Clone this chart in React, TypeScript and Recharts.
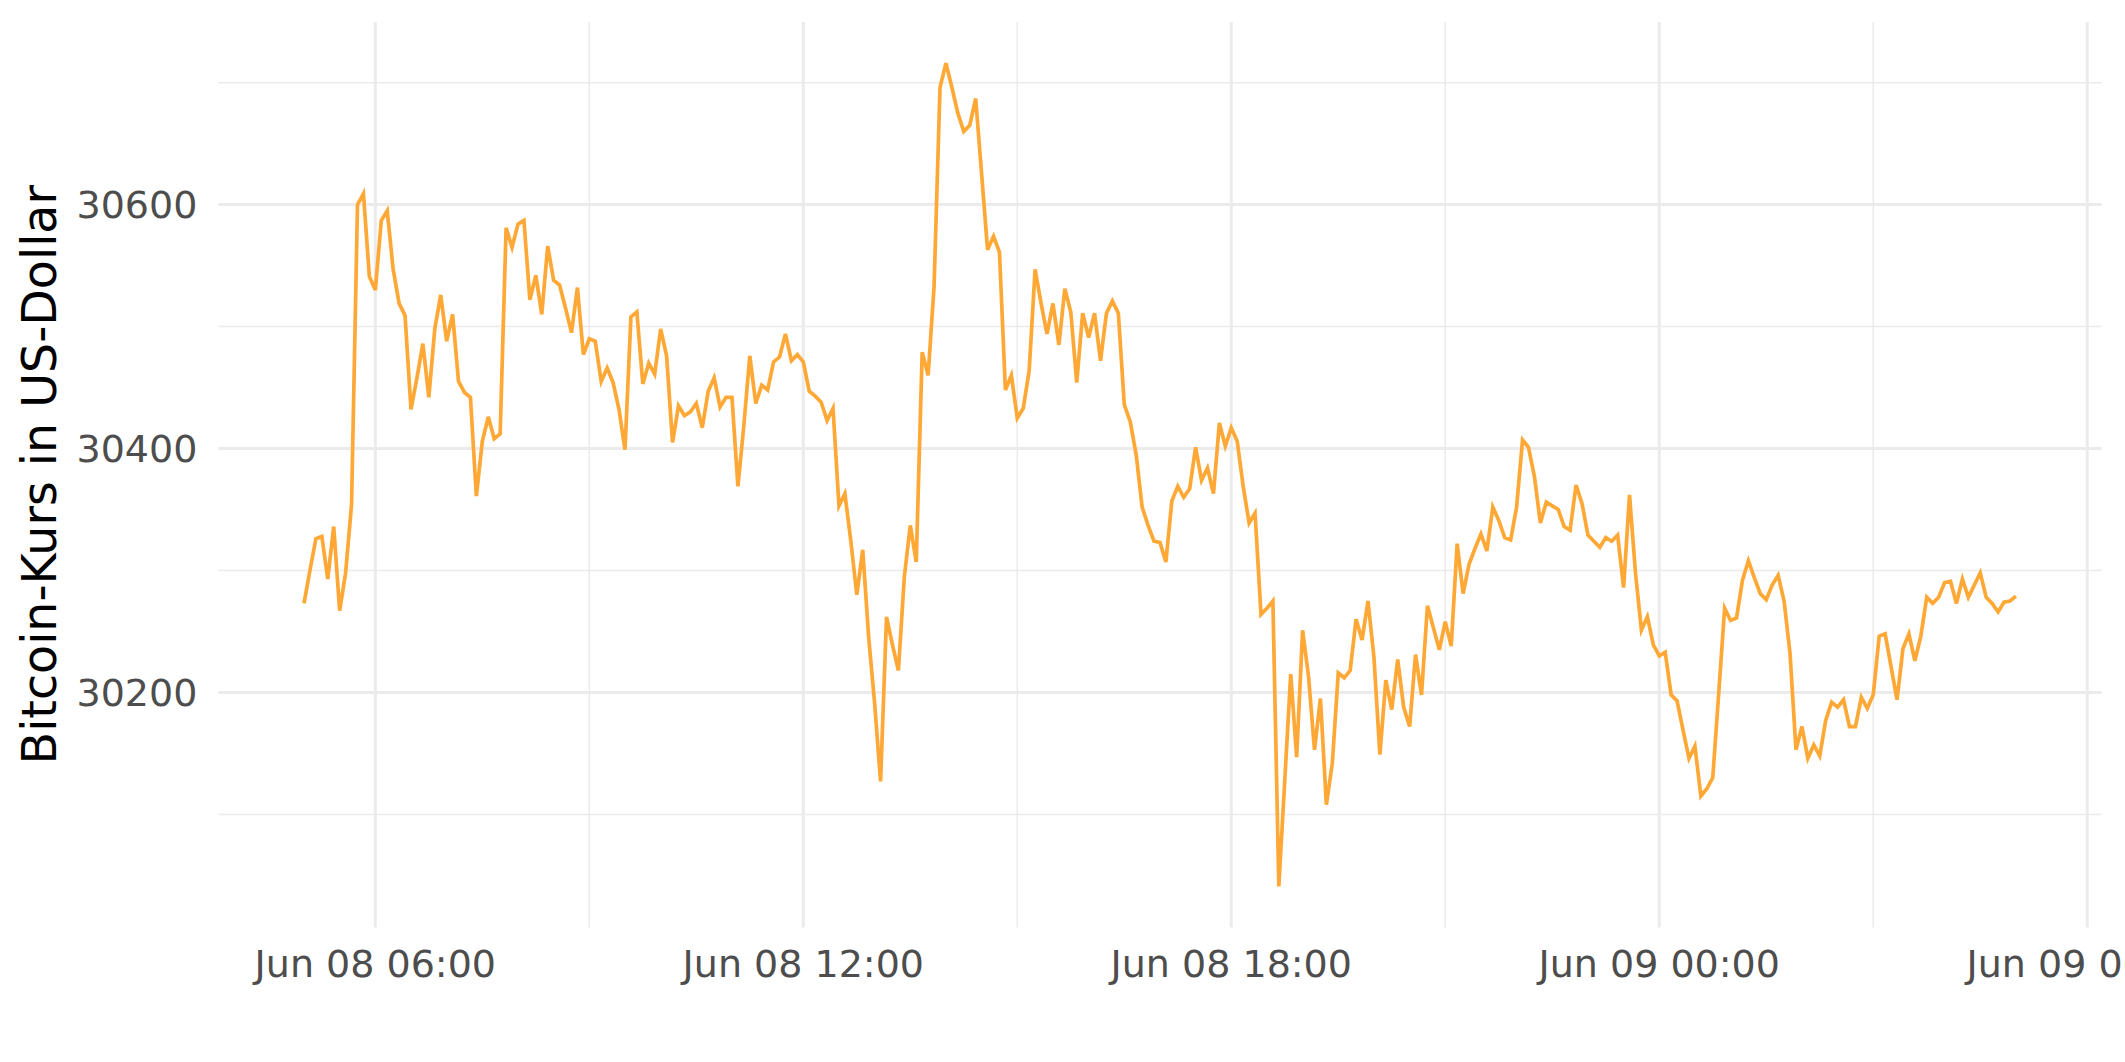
import React from 'react';
import { LineChart, Line, XAxis, YAxis, ReferenceLine } from 'recharts';

// 5-minute prices, Jun 08 05:00 -> Jun 09 05:00 (one row per hour)
const stepMinutes = 5;

const pricesJun08 = [
  30273, 30300, 30326, 30328, 30293, 30336, 30267, 30298, 30354, 30600, 30609, 30541,
  30530, 30587, 30595, 30547, 30519, 30509, 30432, 30458, 30486, 30442, 30498, 30526,
  30488, 30510, 30455, 30446, 30442, 30361, 30406, 30426, 30408, 30412, 30581, 30565,
  30584, 30587, 30522, 30542, 30510, 30566, 30538, 30534, 30515, 30495, 30532, 30477,
  30490, 30488, 30455, 30466, 30454, 30432, 30399, 30508, 30512, 30453, 30470, 30461,
  30498, 30476, 30405, 30435, 30427, 30430, 30437, 30417, 30447, 30458, 30434, 30442,
  30442, 30369, 30419, 30476, 30437, 30452, 30448, 30471, 30475, 30494, 30472, 30477,
  30471, 30447, 30443, 30438, 30423, 30433, 30353, 30363, 30324, 30280, 30317, 30245,
  30191, 30127, 30262, 30239, 30218, 30295, 30337, 30307, 30479, 30460, 30533, 30696,
  30716, 30696, 30675, 30660, 30665, 30687, 30625, 30563, 30574, 30561, 30448, 30460,
  30425, 30433, 30464, 30547, 30519, 30494, 30519, 30485, 30531, 30512, 30454, 30511,
  30491, 30511, 30472, 30511, 30521, 30511, 30436, 30422, 30395, 30352, 30337, 30324,
  30323, 30307, 30357, 30369, 30360, 30367, 30401, 30374, 30384, 30363, 30421, 30402,
  30417, 30406, 30369, 30339, 30347, 30264, 30269, 30275, 30041, 30128, 30215, 30147,
  30251, 30213, 30153, 30195, 30108, 30142, 30216, 30212, 30218, 30260, 30243, 30275,
  30229, 30149, 30210, 30186, 30227, 30188, 30172, 30231, 30198, 30271, 30253, 30235,
  30258, 30238, 30322, 30281, 30305, 30318, 30330, 30316, 30352, 30341, 30327, 30325,
  30352, 30407, 30401, 30377, 30339, 30356, 30353, 30350, 30336, 30333, 30370, 30355,
  30329, 30324, 30319, 30327, 30324, 30329, 30286, 30362, 30298, 30251, 30262, 30239,
];

const pricesJun09 = [
  30230, 30233, 30198, 30193, 30169, 30146, 30156, 30115, 30121, 30130, 30199, 30269,
  30259, 30261, 30292, 30308, 30294, 30281, 30276, 30288, 30296, 30275, 30232, 30153,
  30172, 30146, 30157, 30148, 30177, 30192, 30188, 30194, 30172, 30172, 30196, 30187,
  30198, 30246, 30248, 30221, 30194, 30236, 30248, 30226, 30246, 30278, 30273, 30278,
  30290, 30291, 30273, 30293, 30278, 30288, 30298, 30278, 30273, 30266, 30274, 30275,
  30279,
];

// minutes after Jun 08 05:00
const xTicks = [60, 420, 780, 1140, 1500];
const xTickLabels = ['Jun 08 06:00', 'Jun 08 12:00', 'Jun 08 18:00', 'Jun 09 00:00', 'Jun 09 06:00'];
const xMinorTicks = [240, 600, 960, 1320];
const yTicks = [30200, 30400, 30600];
const yMinorTicks = [30100, 30300, 30500, 30700];

const prices = [...pricesJun08, ...pricesJun09];
const data = prices.map((price, i) => ({ t: i * stepMinutes, price }));

// ggplot-style 5% expansion
const tMax = (prices.length - 1) * stepMinutes;
const xDomain = [-tMax * 0.05, tMax * 1.05];
const pMin = Math.min(...prices);
const pMax = Math.max(...prices);
const yDomain = [pMin - (pMax - pMin) * 0.05, pMax + (pMax - pMin) * 0.05];

const FONT = 'DejaVu Sans';
const GRID = '#EBEBEB';

const YTitle = () => (
  <text
    x={56}
    y={474.75}
    transform="rotate(-90 56 474.75)"
    textAnchor="middle"
    fontSize={47.5}
    fontFamily={FONT}
    fill="#000000"
  >
    Bitcoin-Kurs in US-Dollar
  </text>
);

const App: React.FC = () => {
  return (
    <div style={{ position: 'fixed', left: 0, top: 0, width: 2125, height: 1062, background: '#ffffff', overflow: 'hidden' }}>
      <LineChart width={2125} height={1062} data={data} margin={{ top: 22, right: 23.5, bottom: 0, left: 0 }}>
        <XAxis
          dataKey="t"
          type="number"
          domain={xDomain}
          ticks={xTicks}
          interval={0}
          allowDataOverflow
          tickFormatter={(v: number) => xTickLabels[xTicks.indexOf(v)]}
          height={134.5}
          tickLine={false}
          axisLine={false}
          tickSize={0}
          tickMargin={22.5}
          tick={{ fill: '#4D4D4D', fontSize: 38, fontFamily: FONT }}
        />
        <YAxis
          type="number"
          domain={yDomain}
          ticks={yTicks}
          interval={0}
          allowDataOverflow
          width={218.4}
          tickLine={false}
          axisLine={false}
          tickSize={0}
          tickMargin={21}
          tick={{ fill: '#4D4D4D', fontSize: 38, fontFamily: FONT }}
          label={<YTitle />}
        />
        {yMinorTicks.map((v) => (
          <ReferenceLine key={`ym${v}`} y={v} stroke={GRID} strokeWidth={1.5} />
        ))}
        {xMinorTicks.map((v) => (
          <ReferenceLine key={`xm${v}`} x={v} stroke={GRID} strokeWidth={1.5} />
        ))}
        {yTicks.map((v) => (
          <ReferenceLine key={`y${v}`} y={v} stroke={GRID} strokeWidth={3} />
        ))}
        {xTicks.map((v) => (
          <ReferenceLine key={`x${v}`} x={v} stroke={GRID} strokeWidth={3} />
        ))}
        <Line
          type="linear"
          dataKey="price"
          stroke="#FFA836"
          strokeWidth={3.7}
          dot={false}
          activeDot={false}
          isAnimationActive={false}
        />
      </LineChart>
    </div>
  );
};

export default App;
